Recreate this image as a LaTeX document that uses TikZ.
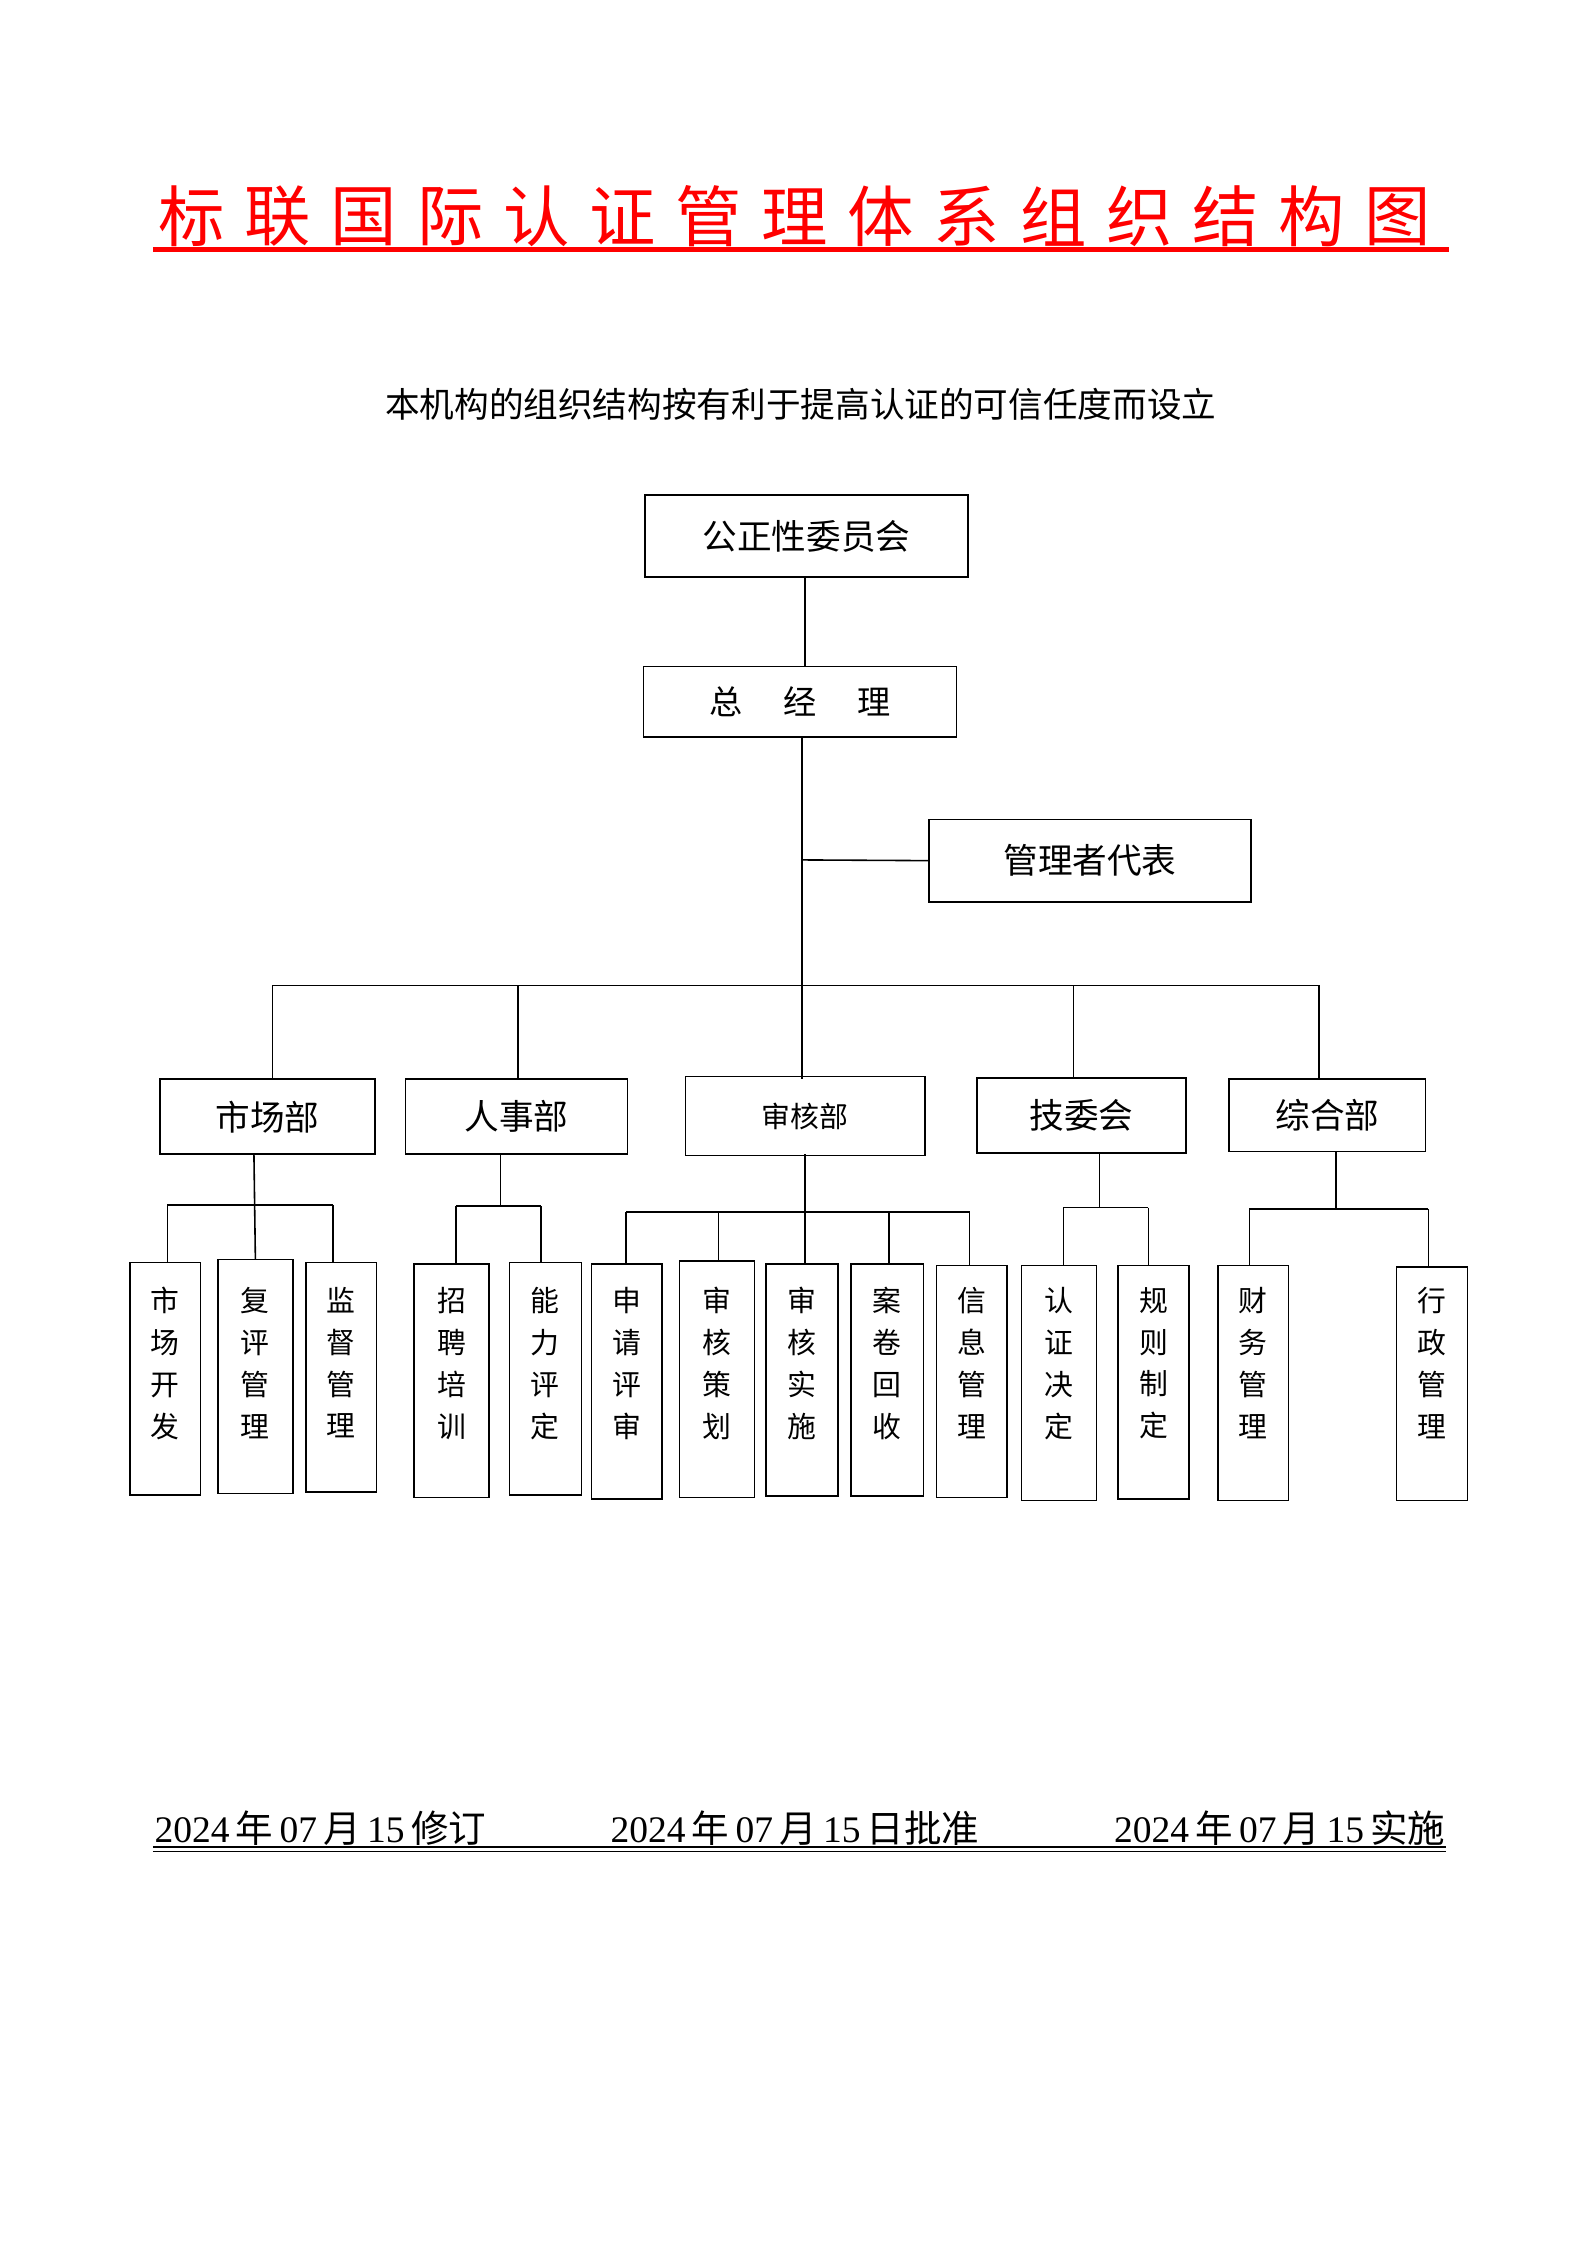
\documentclass[tikz,border=0pt]{standalone}
\usepackage{fontspec}
\setmainfont{Liberation Serif}
\newfontfamily\cjk{Noto Sans CJK SC}
\begin{document}
\begin{tikzpicture}[x=1pt,y=-1pt,
  bx/.style={draw,line width=1.1pt,inner sep=0pt},
  ln/.style={line width=1.1pt},
  leaftxt/.style={anchor=north,align=center,inner sep=0pt,font=\cjk\fontsize{20}{29}\selectfont}]
\useasboundingbox (0,0) rectangle (1100,1556);
% title
\foreach \c [count=\i from 0] in {标,联,国,际,认,证,管,理,体,系,组,织,结,构,图}
  \node[text=red,font=\cjk\fontsize{46}{50}\selectfont,inner sep=0pt] (t\i) at (133+\i*59.7,150) {\c};
\draw[red,line width=3pt] (106,173) -- (1004,173);
\node[font=\cjk\fontsize{24}{28}\selectfont] (sub) at (555,280) {本机构的组织结构按有利于提高认证的可信任度而设立};
% top boxes
\node[bx] (gz) at (559,371.5) {\makebox[224pt]{\rule{0pt}{57pt}}};
\node[font=\cjk\fontsize{24}{28}\selectfont] at (gz) {公正性委员会};
\node[bx] (zjl) at (554.5,486.5) {\makebox[217pt]{\rule{0pt}{49pt}}};
\node[font=\cjk\fontsize{23}{28}\selectfont] at (zjl) {总\hspace{28pt}经\hspace{28pt}理};
\node[bx] (gl) at (755.5,596.5) {\makebox[223pt]{\rule{0pt}{57pt}}};
\node[font=\cjk\fontsize{24}{28}\selectfont] at (gl) {管理者代表};
\draw[ln] (558,400) -- (558,462);
\draw[ln] (556,511) -- (556,683);
\coordinate (glj) at (556,596);
\draw[ln] (glj) -- (gl.west);
\draw[ln] (189,683) -- (914,683);
% departments
\foreach \n/\xa/\xb/\ya/\yb/\t/\s in {sc/111/260/748/800/市场部/24,rs/281/435/748/800/人事部/24,sh/475/641/746/801/审核部/20,jw/677/822/747/799/技委会/24,zh/852/988/748/798/综合部/24}{
  \node[bx,minimum width=\xb-\xa,minimum height=\yb-\ya] (\n) at ({(\xa+\xb)/2},{(\ya+\yb)/2}) {};
  \node[font=\cjk\fontsize{\s}{28}\selectfont] at (\n) {\t};
}
\foreach \x/\n in {189/sc,359/rs,556/sh,744/jw,914/zh}
  \draw[ln] (\x,683) -- (\x,748);
% leaves
\foreach \n/\xa/\xb/\ya/\yb/\t in {l1/90/139/875/1036/市\\场\\开\\发, l2/151/203/873/1035/复\\评\\管\\理, l3/212/261/875/1034/监\\督\\管\\理, l4/287/339/876/1038/招\\聘\\培\\训, l5/353/403/875/1036/能\\力\\评\\定, l6/410/459/876/1039/申\\请\\评\\审, l7/471/523/874/1038/审\\核\\策\\划, l8/531/581/876/1037/审\\核\\实\\施, l9/590/640/876/1037/案\\卷\\回\\收, l10/649/698/877/1038/信\\息\\管\\理, l11/708/760/877/1040/认\\证\\决\\定, l12/775/824/877/1039/规\\则\\制\\定, l13/844/893/877/1040/财\\务\\管\\理, l14/968/1017/878/1040/行\\政\\管\\理}{
  \node[bx,minimum width=\xb-\xa,minimum height=\yb-\ya] (\n) at ({(\xa+\xb)/2},{(\ya+\yb)/2}) {};
  \node[leaftxt] at ({(\xa+\xb)/2},892) {\t};
}
% sub connectors
\draw[ln] (176,800) -- (l2.north);
\draw[ln] (116,835) -- (231,835);
\draw[ln] (116,835) -- (116,875);
\draw[ln] (231,835) -- (231,875);
\draw[ln] (347,800) -- (347,836) (316,836) -- (375,836) (316,836) -- (316,876) (375,836) -- (375,875);
\draw[ln] (558,800) -- (558,840) (434,840) -- (672,840);
\foreach \x/\y in {434/876,498/874,558/876,616/876,672/877} \draw[ln] (\x,840) -- (\x,\y);
\draw[ln] (762,800) -- (762,837) (737,837) -- (796,837) (737,837) -- (737,877) (796,837) -- (796,877);
\draw[ln] (926,798) -- (926,838) (866,838) -- (990,838) (866,838) -- (866,877) (990,838) -- (990,878);
% footer
\node[anchor=base west,inner sep=0pt,font=\fontsize{26}{30}\selectfont] (f1) at (107,1277) {2024\,{\cjk 年}\,07\,{\cjk 月}\,15\,{\cjk 修订}};
\node[anchor=base west,inner sep=0pt,font=\fontsize{26}{30}\selectfont] (f2) at (423,1277) {2024\,{\cjk 年}\,07\,{\cjk 月}\,15\,{\cjk 日批准}};
\node[anchor=base east,inner sep=0pt,font=\fontsize{26}{30}\selectfont] (f3) at (1002,1277) {2024\,{\cjk 年}\,07\,{\cjk 月}\,15\,{\cjk 实施}};
\draw[line width=1.2pt] (106,1280) -- (1002,1280);
\draw[line width=0.6pt] (106,1283.5) -- (1002,1283.5);
\end{tikzpicture}
\end{document}
